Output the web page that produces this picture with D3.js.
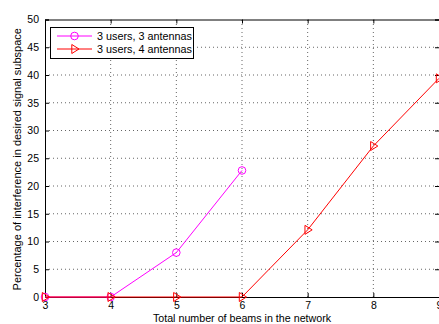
<!DOCTYPE html>
<html>
<head>
<meta charset="utf-8">
<script src="https://cdn.jsdelivr.net/npm/d3@7/dist/d3.min.js"></script>
<style>
body{margin:0;background:#fff;}
svg{display:block;font-family:"Liberation Sans",Arial,Helvetica,sans-serif;}
</style>
</head>
<body>
<svg id="chart" width="439" height="324"></svg>
<script>
const beams = [3, 4, 5, 6, 7, 8, 9];
const series1Name = "3 users, 3 antennas";
const series1X = [3, 4, 5, 6];
const series1Y = [0, 0, 8.0, 22.8];
const series2Name = "3 users, 4 antennas";
const series2X = [3, 4, 5, 6, 7, 8, 9];
const series2Y = [0, 0, 0, 0, 12.1, 27.2, 39.4];
const yTicks = [0, 5, 10, 15, 20, 25, 30, 35, 40, 45, 50];
const xLabel = "Total number of beams in the network";
const yLabel = "Percentage of interference in desired signal subspace";

const svg = d3.select("#chart");
const L = 45, R = 439, T = 19.5, B = 297;
const x = d3.scaleLinear().domain([3, 9]).range([L, R]);
const y = d3.scaleLinear().domain([0, 50]).range([B, T]);

// grid
const g = svg.append("g");
g.selectAll(".gx").data(beams.slice(1, -1)).enter().append("line")
  .attr("x1", d => x(d)).attr("x2", d => x(d)).attr("y1", B).attr("y2", T)
  .attr("stroke", "#666").attr("stroke-width", 1).attr("stroke-dasharray", "1,3");
g.selectAll(".gy").data(yTicks.slice(1, -1)).enter().append("line")
  .attr("y1", d => y(d)).attr("y2", d => y(d)).attr("x1", L).attr("x2", R)
  .attr("stroke", "#666").attr("stroke-width", 1).attr("stroke-dasharray", "1,3");

// axes
const xAxisB = d3.axisBottom(x).tickValues(beams).tickSize(-4).tickPadding(5).tickFormat(d3.format("d"));
const xAxisT = d3.axisTop(x).tickValues(beams).tickSize(-4).tickFormat("");
const yAxisL = d3.axisLeft(y).tickValues(yTicks).tickSize(-4).tickPadding(6).tickFormat(d3.format("d"));
const yAxisR = d3.axisRight(y).tickValues(yTicks).tickSize(-4).tickFormat("");
function styleAxis(sel){
  sel.select(".domain").attr("stroke", "#000").attr("stroke-width", 1);
  sel.selectAll(".tick line").attr("stroke", "#000");
  sel.selectAll("text").attr("fill", "#000").style("font-size", "10.5px").style("font-family", "Liberation Sans, Arial, sans-serif");
}
svg.append("g").attr("transform", `translate(0,${B})`).call(xAxisB).call(styleAxis);
svg.append("g").attr("transform", `translate(0,${T})`).call(xAxisT).call(styleAxis);
svg.append("g").attr("transform", `translate(${L},0)`).call(yAxisL).call(styleAxis);
svg.append("g").attr("transform", `translate(${R},0)`).call(yAxisR).call(styleAxis);

// lines
const line = d3.line().x(d => x(d[0])).y(d => y(d[1]));
const s1 = series1X.map((v, i) => [v, series1Y[i]]);
const s2 = series2X.map((v, i) => [v, series2Y[i]]);
const magenta = "#ff00ff", red = "#ff0000";
const tri = (cx, cy, s) => `M${cx - s*0.6},${cy - s}L${cx + s*1.0},${cy}L${cx - s*0.6},${cy + s}Z`;

svg.append("path").datum(s1).attr("d", line).attr("fill", "none").attr("stroke", magenta).attr("stroke-width", 1);
svg.selectAll(".m1").data(s1).enter().append("circle")
  .attr("cx", d => x(d[0])).attr("cy", d => y(d[1])).attr("r", 3.8)
  .attr("fill", "none").attr("stroke", magenta).attr("stroke-width", 1);

svg.append("path").datum(s2).attr("d", line).attr("fill", "none").attr("stroke", red).attr("stroke-width", 1);
svg.selectAll(".m2").data(s2).enter().append("path")
  .attr("d", d => tri(x(d[0]), y(d[1]), 4.5))
  .attr("fill", "none").attr("stroke", red).attr("stroke-width", 1);

// legend
const lg = svg.append("g");
lg.append("rect").attr("x", 50.5).attr("y", 27.5).attr("width", 143).attr("height", 31)
  .attr("fill", "#fff").attr("stroke", "#000").attr("stroke-width", 1);
const entries = [
  {name: series1Name, color: magenta, type: "circle", yy: 36},
  {name: series2Name, color: red, type: "tri", yy: 49}
];
entries.forEach(e => {
  lg.append("line").attr("x1", 57).attr("x2", 92).attr("y1", e.yy).attr("y2", e.yy)
    .attr("stroke", e.color).attr("stroke-width", 1);
  if (e.type === "circle") {
    lg.append("circle").attr("cx", 74.5).attr("cy", e.yy).attr("r", 3.8)
      .attr("fill", "none").attr("stroke", e.color);
  } else {
    lg.append("path").attr("d", tri(74.5, e.yy, 4.5)).attr("fill", "none").attr("stroke", e.color);
  }
  lg.append("text").attr("x", 97).attr("y", e.yy + 3.8).text(e.name)
    .style("font-size", "10.8px").attr("fill", "#000");
});

// labels
svg.append("text").attr("x", 242).attr("y", 321.5).attr("text-anchor", "middle")
  .style("font-size", "10.7px").attr("fill", "#000").text(xLabel);
svg.append("text").attr("transform", `translate(21,${(T + B) / 2 + 1}) rotate(-90)`).attr("text-anchor", "middle")
  .style("font-size", "11px").attr("fill", "#000").text(yLabel);
</script>
</body>
</html>
